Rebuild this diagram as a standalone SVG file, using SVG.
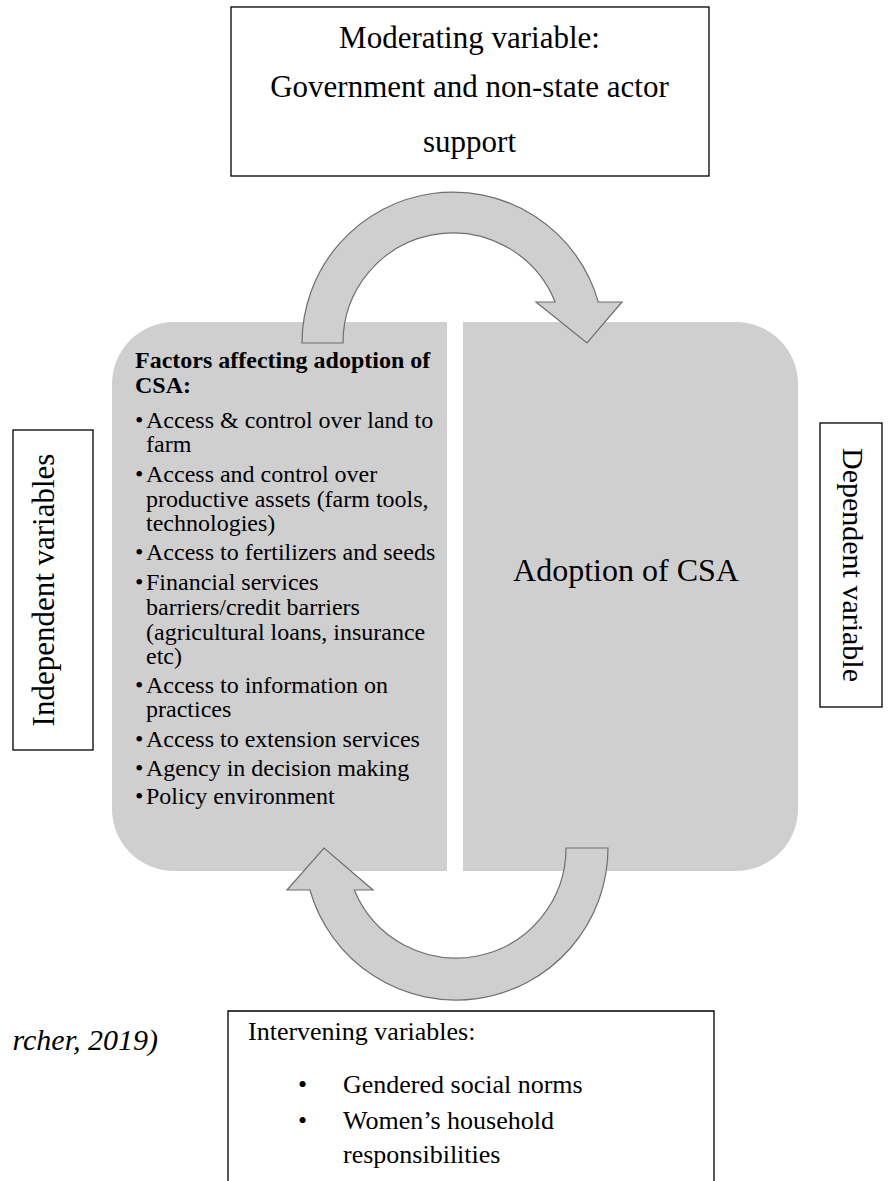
<svg xmlns="http://www.w3.org/2000/svg" width="891" height="1181" viewBox="0 0 891 1181">
<style>
.t{font-family:"Liberation Serif","Times New Roman",serif;fill:#000}
.box{fill:#fff;stroke:#000;stroke-width:1.3}
.panel{fill:#d0cfd0}
.arrow{fill:#d0cfd0;stroke:#6f6f6f;stroke-width:1.2;stroke-linejoin:miter}
</style>
<rect width="891" height="1181" fill="#fff"/>
<g id="moderating">
<rect class="box" x="231" y="7" width="478" height="169"/>
<text class="t" font-size="31" text-anchor="middle" x="469.5" y="48">Moderating variable:</text>
<text class="t" font-size="31" text-anchor="middle" x="469.5" y="97">Government and non-state actor</text>
<text class="t" font-size="31" text-anchor="middle" x="469.5" y="152">support</text>
</g>
<g id="factors">
<path class="panel" d="M174 322H447V871H174A62 62 0 0 1 112 809V384A62 62 0 0 1 174 322Z"/>
<g class="t" font-size="24">
<text x="135" y="368" font-weight="bold">Factors affecting adoption of</text>
<text x="135" y="393" font-weight="bold">CSA:</text>
<text x="135" y="428">•</text><text x="146" y="428">Access &amp; control over land to</text>
<text x="146" y="452">farm</text>
<text x="135" y="482">•</text><text x="146" y="482">Access and control over</text>
<text x="146" y="507">productive assets (farm tools,</text>
<text x="146" y="531">technologies)</text>
<text x="135" y="560">•</text><text x="146" y="560">Access to fertilizers and seeds</text>
<text x="135" y="590">•</text><text x="146" y="590">Financial services</text>
<text x="146" y="615">barriers/credit barriers</text>
<text x="146" y="640">(agricultural loans, insurance</text>
<text x="146" y="664">etc)</text>
<text x="135" y="693">•</text><text x="146" y="693">Access to information on</text>
<text x="146" y="717">practices</text>
<text x="135" y="747">•</text><text x="146" y="747">Access to extension services</text>
<text x="135" y="776">•</text><text x="146" y="776">Agency in decision making</text>
<text x="135" y="804">•</text><text x="146" y="804">Policy environment</text>
</g>
</g>
<g id="adoption">
<path class="panel" d="M463 322H736A62 62 0 0 1 798 384V809A62 62 0 0 1 736 871H463Z"/>
<text class="t" font-size="32" text-anchor="middle" x="626" y="581">Adoption of CSA</text>
</g>
<g id="independent">
<rect class="box" x="13" y="430" width="80" height="320"/>
<text class="t" font-size="31" text-anchor="middle" transform="translate(54 590) rotate(-90)">Independent variables</text>
</g>
<g id="dependent">
<rect class="box" x="820" y="423" width="62" height="284"/>
<text class="t" font-size="30" text-anchor="middle" transform="translate(843 565) rotate(90)">Dependent variable</text>
</g>
<g id="intervening">
<path class="box" d="M228 1190V1011H714V1190"/>
<text class="t" font-size="26" x="248" y="1040">Intervening variables:</text>
<text class="t" font-size="26" x="298" y="1093">•</text>
<text class="t" font-size="26" x="343" y="1093">Gendered social norms</text>
<text class="t" font-size="26" x="298" y="1129">•</text>
<text class="t" font-size="26" x="343" y="1129">Women’s household</text>
<text class="t" font-size="26" x="343" y="1163">responsibilities</text>
</g>
<g id="source">
<text class="t" font-size="30" font-style="italic" text-anchor="end" x="158" y="1050">rcher, 2019)</text>
</g>
<g id="connectors">
<path class="arrow" d="M302 343A151 151 0 0 1 598.3 302L622 302L587 343L536 302L555.1 302A110 110 0 0 0 343 343Z"/>
<path class="arrow" d="M608 848A152 152 0 0 1 309.9 890L287 890L324 848L373 890L354.3 890A110 110 0 0 0 566 848Z"/>
</g>
</svg>
